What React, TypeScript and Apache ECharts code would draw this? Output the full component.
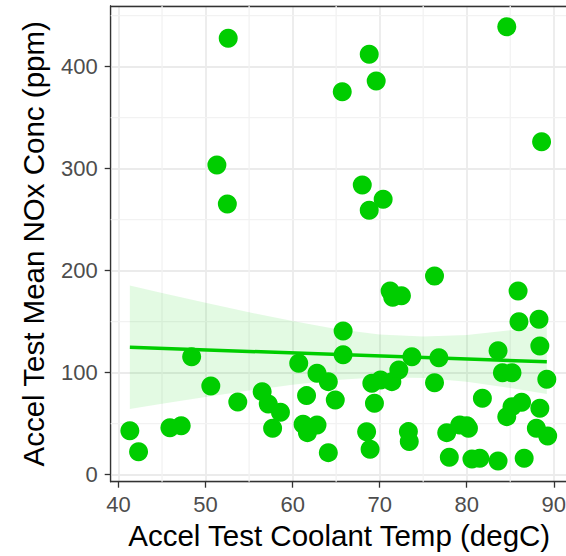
import React, { useEffect, useRef } from "react";
import * as echarts from "echarts";

// Scatter data: Accel Test Coolant Temp (degC) vs Accel Test Mean NOx Conc (ppm)
const coolantTemp = [
  41.3, 42.3, 45.9, 47.2, 48.4, 50.6, 51.3, 52.5, 52.6, 53.7,
  56.5, 57.2, 58.6, 57.7, 60.7, 61.6, 61.2, 61.7, 62.8, 64.1,
  62.8, 64.1, 64.9, 65.7, 65.8, 65.8, 68.0, 68.8, 69.6, 70.4,
  68.8, 68.5, 68.9, 69.1, 69.4, 70.1, 71.4, 72.2, 71.2, 71.5,
  72.5, 73.3, 73.4, 73.7, 76.3, 76.3, 76.8, 77.7, 78.0, 79.2,
  80.0, 80.2, 80.6, 81.5, 81.8, 83.6, 83.6, 84.1, 85.2, 84.6,
  84.6, 85.2, 86.3, 85.9, 86.0, 86.6, 88.0, 88.3, 88.4, 88.4,
  88.6, 89.2, 89.3,
];
const noxConc = [
  43, 22.5, 46, 48, 115.7, 87, 303.6, 265.4, 427.8, 71.3,
  81.4, 69.3, 61.2, 45.5, 109.2, 77.5, 49.4, 41.2, 48.7, 21.6,
  99.4, 91.2, 73.3, 375.5, 140.8, 117.6, 284, 412.1, 386, 270,
  259.2, 42, 25, 89.6, 70, 92.8, 91.2, 102.6, 180, 174,
  175.5, 42.2, 32.4, 115.7, 194.8, 90.2, 114.7, 41.2, 17, 48.7,
  48, 45.5, 15.4, 16.1, 74.9, 121.6, 13.4, 100, 100, 439.2,
  56.9, 66.7, 71, 180.1, 150, 16.1, 45.5, 152.3, 126.2, 65.1,
  326.5, 93.5, 37.9,
];

// Linear fit line and confidence band
const fitX = [41.3, 89.2];
const fitY = [124.9, 110.6];
const bandX = [41.3, 45, 50, 55, 60, 65, 70, 75, 80, 85, 89.2];
const bandLow = [64.4, 69.5, 76.1, 82.4, 88.2, 92.9, 95.5, 94.7, 91.0, 85.0, 79.0];
const bandHigh = [185.4, 178.1, 168.5, 159.2, 150.6, 142.9, 137.3, 135.5, 137.0, 141.5, 147.5];

// Axis ranges and minor grid values
const xRange = [39.1, 91.6];
const yRange = [-6.9, 459.5];
const xMinor = [45, 55, 65, 75, 85];
const yMinor = [50, 150, 250, 350, 450];

const GREEN = "#00CD00";
const FONT = "'Liberation Sans', Arial, sans-serif";
const BORDER = "#333333";

export default function App() {
  const ref = useRef<HTMLDivElement>(null);

  useEffect(() => {
    if (!ref.current) return;
    const chart = echarts.init(ref.current, undefined, { renderer: "svg" });

    const points = coolantTemp.map((x, i) => [x, noxConc[i]]);
    const fitData = fitX.map((x, i) => [x, fitY[i]]);
    const bandData = bandX.map((x, i) => [x, bandLow[i], bandHigh[i]]);

    const frameAxis = {
      type: "value",
      axisLine: { show: true, onZero: false, lineStyle: { color: BORDER, width: 1.3 } },
      axisTick: { show: false },
      axisLabel: { show: false },
      splitLine: { show: false },
    };

    const option: any = {
      animation: false,
      backgroundColor: "#ffffff",
      grid: {
        left: 110.7,
        top: 6,
        right: 2.3,
        bottom: 74.3,
        show: true,
        borderColor: BORDER,
        borderWidth: 1.3,
        backgroundColor: "#ffffff",
        containLabel: false,
      },
      xAxis: [
        {
          type: "value",
          min: xRange[0],
          max: xRange[1],
          splitNumber: 5,
          name: "Accel Test Coolant Temp (degC)",
          nameLocation: "middle",
          nameGap: 38,
          nameTextStyle: { fontFamily: FONT, fontSize: 29.5, color: "#000000" },
          axisLine: { show: true, onZero: false, lineStyle: { color: BORDER, width: 1.3 } },
          axisTick: { show: true, length: 6, lineStyle: { color: BORDER, width: 1.3 } },
          axisLabel: {
            fontFamily: FONT,
            fontSize: 22,
            color: "#4D4D4D",
            margin: 12,
            showMinLabel: false,
            showMaxLabel: false,
          },
          splitLine: { show: true, lineStyle: { color: "#EBEBEB", width: 1.8 } },
        },
        { ...frameAxis, position: "top", min: xRange[0], max: xRange[1] },
      ],
      yAxis: [
        {
          type: "value",
          min: yRange[0],
          max: yRange[1],
          splitNumber: 5,
          name: "Accel Test Mean NOx Conc (ppm)",
          nameLocation: "middle",
          nameGap: 62,
          nameTextStyle: { fontFamily: FONT, fontSize: 29.5, color: "#000000" },
          axisLine: { show: true, onZero: false, lineStyle: { color: BORDER, width: 1.3 } },
          axisTick: { show: true, length: 6, lineStyle: { color: BORDER, width: 1.3 } },
          axisLabel: {
            fontFamily: FONT,
            fontSize: 22,
            color: "#4D4D4D",
            margin: 13,
            showMinLabel: false,
            showMaxLabel: false,
          },
          splitLine: { show: true, lineStyle: { color: "#EBEBEB", width: 1.8 } },
        },
        { ...frameAxis, position: "right", min: yRange[0], max: yRange[1] },
      ],
      series: [
        {
          type: "custom",
          name: "minorX",
          z: 1,
          silent: true,
          data: xMinor,
          renderItem: (_p: any, api: any) => {
            const v = api.value(0);
            const a = api.coord([v, yRange[0]]);
            const b = api.coord([v, yRange[1]]);
            return {
              type: "line",
              shape: { x1: a[0], y1: a[1], x2: b[0], y2: b[1] },
              style: { stroke: "#F2F2F2", lineWidth: 1.3 },
            };
          },
        },
        {
          type: "custom",
          name: "minorY",
          z: 1,
          silent: true,
          data: yMinor.map((v) => [xRange[0], v]),
          renderItem: (_p: any, api: any) => {
            const v = api.value(1);
            const a = api.coord([xRange[0], v]);
            const b = api.coord([xRange[1], v]);
            return {
              type: "line",
              shape: { x1: a[0], y1: a[1], x2: b[0], y2: b[1] },
              style: { stroke: "#F2F2F2", lineWidth: 1.3 },
            };
          },
        },
        {
          type: "scatter",
          name: "points",
          z: 3,
          data: points,
          symbol: "circle",
          symbolSize: 19,
          itemStyle: { color: GREEN, opacity: 1 },
        },
        {
          type: "custom",
          name: "band",
          z: 4,
          silent: true,
          data: [0],
          renderItem: (_p: any, api: any) => {
            const upper = bandData.map((d) => api.coord([d[0], d[2]]));
            const lower = bandData
              .slice()
              .reverse()
              .map((d) => api.coord([d[0], d[1]]));
            return {
              type: "polygon",
              shape: { points: upper.concat(lower) },
              style: { fill: "rgba(0,205,0,0.11)", stroke: "none" },
            };
          },
        },
        {
          type: "line",
          name: "fit",
          z: 5,
          data: fitData,
          symbol: "none",
          lineStyle: { color: GREEN, width: 3.5 },
        },
      ],
    };

    chart.setOption(option);
    return () => chart.dispose();
  }, []);

  return (
    <div
      ref={ref}
      style={{ position: "fixed", left: 0, top: 0, width: 570, height: 556 }}
    />
  );
}
